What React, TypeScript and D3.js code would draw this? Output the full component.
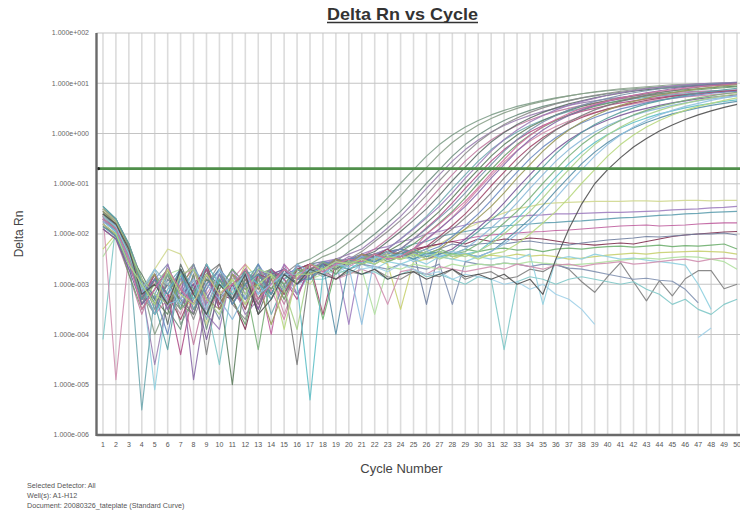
import React from 'react';
import * as d3 from 'd3';

const cycles = [1,2,3,4,5,6,7,8,9,10,11,12,13,14,15,16,17,18,19,20,21,22,23,24,25,26,27,28,29,30,31,32,33,34,35,36,37,38,39,40,41,42,43,44,45,46,47,48,49,50];
const yTickValues = [1e2, 1e1, 1e0, 1e-1, 1e-2, 1e-3, 1e-4, 1e-5, 1e-6];
const yTickLabels = ['1.000e+002','1.000e+001','1.000e+000','1.000e-001','1.000e-002','1.000e-003','1.000e-004','1.000e-005','1.000e-006'];
const threshold = 0.2;
const footer = ['Selected Detector: All', 'Well(s): A1-H12', 'Document: 20080326_tateplate (Standard Curve)'];

// Delta Rn values as log10 exponents, per cycle 1..50 (null = not plottable)
type S = (number | null)[];
const A1: S = [-1.55,-1.75,-2.4,-3.2,-3.6,-2.8,-3.8,-3.3,-2.7,-3.4, -2.9,-3.5,-2.8,-2.7,-3.1,-2.6,-2.5,-2.35,-2.2,-2.0, -1.78,-1.55,-1.28,-0.99,-0.72,-0.45,-0.22,-0.03,0.13,0.26, 0.37,0.46,0.54,0.6,0.66,0.71,0.75,0.79,0.82,0.85, 0.87,0.89,0.91,0.93,0.94,0.95,0.96,0.97,0.98,0.99];
const A28: S = [-1.7,-1.9,-2.6,-3.0,-4.0,-3.4,-2.9,-2.6,-3.5,-2.8, -3.3,-3.0,-2.6,-3.2,-2.7,-2.9,-2.6,-2.45,-2.35,-2.16, -1.96,-1.74,-1.51,-1.24,-0.95,-0.68,-0.41,-0.18,0.01,0.17, 0.3,0.41,0.5,0.58,0.64,0.7,0.75,0.79,0.83,0.86, 0.89,0.91,0.93,0.95,0.97,0.98,0.99,1.0,1.01,1.02];
const A2: S = [-1.6,-1.8,-2.3,-3.4,-2.9,-3.5,-3.9,-2.8,-3.9,-2.9, -3.3,-2.7,-3.1,-2.75,-3.3,-2.7,-2.8,-2.6,-2.55,-2.35, -2.2,-2.0,-1.78,-1.55,-1.28,-0.99,-0.72,-0.45,-0.22,-0.03, 0.13,0.26,0.37,0.46,0.54,0.6,0.66,0.71,0.75,0.79, 0.82,0.85,0.87,0.89,0.91,0.93,0.94,0.95,0.96,0.97];
const A3: S = [-1.8,-2.0,-2.7,-3.1,-4.6,-3.3,-2.8,-3.6,-2.6,-3.3, -3.0,-3.6,-3.3,-2.8,-2.9,-3.2,-2.75,-2.6,-2.5,-2.4, -2.3,-2.1,-1.88,-1.65,-1.38,-1.09,-0.82,-0.55,-0.32,-0.13, 0.03,0.16,0.27,0.36,0.44,0.5,0.56,0.61,0.65,0.69, 0.72,0.75,0.77,0.79,0.81,0.83,0.84,0.85,0.86,0.87];
const A4: S = [-1.5,-1.7,-2.2,-2.9,-3.5,-2.7,-3.1,-3.7,-3.0,-2.6, -3.4,-3.7,-2.9,-3.3,-2.8,-2.6,-2.9,-2.7,-2.6,-2.5, -2.35,-2.15,-1.95,-1.73,-1.5,-1.23,-0.94,-0.67,-0.4,-0.17, 0.02,0.18,0.31,0.42,0.51,0.59,0.65,0.71,0.76,0.8, 0.84,0.87,0.9,0.92,0.94,0.96,0.98,0.99,1.0,1.01];
const A5: S = [-1.9,-2.1,-2.8,-3.6,-2.9,-3.5,-3.0,-4.2,-3.1,-2.7, -3.2,-3.4,-2.7,-2.9,-3.4,-2.7,-2.8,-2.6,-2.7,-2.55, -2.45,-2.3,-2.1,-1.88,-1.65,-1.38,-1.09,-0.82,-0.55,-0.32, -0.13,0.03,0.16,0.27,0.36,0.44,0.5,0.56,0.61,0.65, 0.69,0.72,0.75,0.77,0.79,0.81,0.83,0.84,0.85,0.86];
const A6: S = [-1.65,-1.85,-2.5,-3.3,-2.8,-3.8,-2.6,-3.2,-2.7,-3.5, -3.0,-2.8,-3.6,-2.9,-2.7,-3.0,-2.6,-2.7,-2.5,-2.6, -2.45,-2.35,-2.15,-1.95,-1.73,-1.5,-1.23,-0.94,-0.67,-0.4, -0.17,0.02,0.18,0.31,0.42,0.51,0.59,0.65,0.71,0.76, 0.8,0.84,0.87,0.9,0.92,0.94,0.96,0.98,0.99,1.0];
const A7: S = [-1.45,-1.7,-2.3,-5.5,-3.2,-2.7,-3.4,-2.9,-3.7,-2.8, -3.3,-3.0,-2.6,-3.6,-3.0,-2.8,-2.7,-2.6,-2.65,-2.5, -2.55,-2.4,-2.3,-2.1,-1.88,-1.65,-1.38,-1.09,-0.82,-0.55, -0.32,-0.13,0.03,0.16,0.27,0.36,0.44,0.5,0.56,0.61, 0.65,0.69,0.72,0.75,0.77,0.79,0.81,0.83,0.84,0.85];
const A8: S = [-1.7,-1.95,-2.5,-3.1,-3.6,-2.6,-3.3,-2.9,-3.6,-3.9, -2.7,-3.2,-2.8,-3.1,-2.6,-3.2,-2.7,-2.55,-2.6,-2.45, -2.5,-2.4,-2.3,-2.1,-1.9,-1.68,-1.45,-1.18,-0.89,-0.62, -0.35,-0.12,0.07,0.23,0.36,0.47,0.56,0.64,0.7,0.76, 0.81,0.85,0.89,0.92,0.95,0.97,0.99,1.0,1.01,1.02];
const A9: S = [-1.6,-1.8,-2.4,-2.8,-3.3,-3.6,-2.7,-3.4,-2.9,-3.1, -5.0,-2.7,-3.3,-2.8,-3.1,-2.7,-2.8,-2.6,-2.7,-2.5, -2.6,-2.45,-2.35,-2.2,-2.0,-1.78,-1.55,-1.28,-0.99,-0.72, -0.45,-0.22,-0.03,0.13,0.26,0.37,0.46,0.54,0.6,0.66, 0.71,0.75,0.79,0.82,0.85,0.87,0.89,0.91,0.93,0.94];
const A10: S = [-1.75,-1.9,-2.6,-3.3,-2.8,-3.2,-4.4,-3.1,-2.7,-3.5, -3.0,-2.8,-3.5,-2.7,-2.9,-3.3,-2.6,-2.7,-2.5,-2.6, -2.4,-2.5,-2.4,-2.3,-2.1,-1.88,-1.65,-1.38,-1.09,-0.82, -0.55,-0.32,-0.13,0.03,0.16,0.27,0.36,0.44,0.5,0.56, 0.61,0.65,0.69,0.72,0.75,0.77,0.79,0.81,0.83,0.84];
const A11: S = [-1.55,-1.8,-2.3,-2.9,-3.4,-3.0,-3.5,-2.6,-3.2,-3.7, -2.8,-3.3,-3.0,-2.7,-3.2,-2.6,-2.9,-2.65,-2.5,-2.55, -2.45,-2.5,-2.4,-2.3,-2.1,-1.9,-1.68,-1.45,-1.18,-0.89, -0.62,-0.35,-0.12,0.07,0.23,0.36,0.47,0.56,0.64,0.7, 0.76,0.81,0.85,0.89,0.92,0.95,0.97,0.99,1.0,1.01];
const A12: S = [-1.85,-2.0,-2.8,-3.5,-3.1,-2.7,-3.4,-3.6,-2.8,-3.0, -3.3,-3.8,-2.8,-3.1,-2.7,-3.0,-2.7,-2.6,-2.8,-2.5, -2.55,-2.4,-2.5,-2.35,-2.2,-2.0,-1.78,-1.55,-1.28,-0.99, -0.72,-0.45,-0.22,-0.03,0.13,0.26,0.37,0.46,0.54,0.6, 0.66,0.71,0.75,0.79,0.82,0.85,0.87,0.89,0.91,0.93];
const A13: S = [-1.65,-1.85,-2.5,-3.0,-3.6,-3.3,-2.8,-2.7,-3.5,-3.2, -2.9,-2.6,-3.4,-3.1,-3.7,-2.9,-2.8,-2.7,-2.6,-2.65, -2.5,-2.6,-2.45,-2.5,-2.32,-2.12,-1.9,-1.67,-1.4,-1.11, -0.84,-0.57,-0.34,-0.15,0.01,0.14,0.25,0.34,0.42,0.48, 0.54,0.59,0.63,0.67,0.7,0.73,0.75,0.77,0.79,0.81];
const A14: S = [-1.7,-1.9,-2.4,-3.2,-2.9,-3.5,-2.7,-4.9,-3.3,-2.8, -3.4,-3.0,-2.7,-3.2,-2.7,-2.9,-2.75,-2.7,-2.5,-2.6, -2.45,-2.4,-2.5,-2.4,-2.3,-2.1,-1.9,-1.68,-1.45,-1.18, -0.89,-0.62,-0.35,-0.12,0.07,0.23,0.36,0.47,0.56,0.64, 0.7,0.76,0.81,0.85,0.89,0.92,0.95,0.97,0.99,1.01];
const A15: S = [-1.5,-1.75,-2.3,-3.3,-2.9,-3.2,-3.7,-3.1,-2.6,-3.4, -3.0,-3.5,-2.8,-2.9,-3.2,-2.7,-2.6,-3.6,-2.55,-2.6, -2.5,-2.45,-2.3,-2.5,-2.35,-2.25,-2.05,-1.83,-1.6,-1.33, -1.04,-0.77,-0.5,-0.27,-0.08,0.08,0.21,0.32,0.41,0.49, 0.55,0.61,0.66,0.7,0.74,0.77,0.8,0.82,0.84,0.86];
const A16: S = [-1.8,-2.05,-2.6,-2.9,-3.4,-3.0,-3.3,-3.6,-2.8,-2.6, -3.3,-2.9,-3.4,-2.8,-3.0,-4.6,-2.7,-2.6,-2.65,-2.5, -2.55,-2.4,-2.45,-2.35,-2.4,-2.3,-2.1,-1.9,-1.68,-1.45, -1.18,-0.89,-0.62,-0.35,-0.12,0.07,0.23,0.36,0.47,0.56, 0.64,0.7,0.76,0.81,0.85,0.89,0.92,0.95,0.97,0.99];
const A17: S = [-1.6,-1.85,-2.4,-3.0,-3.2,-4.0,-2.8,-3.4,-3.1,-2.7, -3.0,-3.3,-2.6,-3.0,-2.8,-2.7,-2.9,-2.55,-2.6,-2.5, -2.45,-2.55,-2.4,-2.3,-2.45,-2.35,-2.25,-2.05,-1.83,-1.6, -1.33,-1.04,-0.77,-0.5,-0.27,-0.08,0.08,0.21,0.32,0.41, 0.49,0.55,0.61,0.66,0.7,0.74,0.77,0.8,0.82,0.84];
const A18: S = [-1.55,-1.8,-2.2,-3.1,-2.8,-3.4,-3.0,-2.7,-3.3,-3.5, -2.8,-3.1,-3.0,-3.8,-3.1,-2.8,-2.6,-2.7,-2.5,-2.6, -2.4,-2.5,-2.35,-2.45,-2.3,-2.4,-2.3,-2.1,-1.9,-1.68, -1.45,-1.18,-0.89,-0.62,-0.35,-0.12,0.07,0.23,0.36,0.47, 0.56,0.64,0.7,0.76,0.81,0.85,0.89,0.92,0.95,0.97];
const A19: S = [-1.9,-2.1,-2.7,-3.4,-3.1,-2.7,-3.2,-3.0,-4.1,-3.1, -2.7,-3.0,-3.5,-2.8,-2.7,-3.0,-2.8,-2.6,-2.7,-2.55, -2.6,-2.4,-2.5,-2.45,-2.35,-2.5,-2.4,-2.3,-2.1,-1.88, -1.65,-1.38,-1.09,-0.82,-0.55,-0.32,-0.13,0.03,0.16,0.27, 0.36,0.44,0.5,0.56,0.61,0.65,0.69,0.72,0.75,0.77];
const A20: S = [-1.45,-1.7,-2.2,-3.0,-3.4,-4.3,-2.7,-3.1,-3.6,-2.9, -3.3,-2.7,-3.0,-3.2,-2.7,-2.9,-2.7,-2.8,-2.6,-2.5, -2.6,-2.45,-2.5,-2.4,-2.3,-2.45,-2.4,-2.35,-2.15,-1.95, -1.73,-1.5,-1.23,-0.94,-0.67,-0.4,-0.17,0.02,0.18,0.31, 0.42,0.51,0.59,0.65,0.71,0.76,0.8,0.84,0.87,0.9];
const A21: S = [-1.75,-1.95,-2.5,-3.2,-2.7,-3.4,-3.3,-2.7,-3.0,-3.3, -3.7,-3.2,-2.7,-2.8,-3.1,-2.6,-2.75,-2.7,-2.55,-2.6, -2.45,-2.5,-2.35,-2.5,-2.4,-2.3,-2.45,-2.4,-2.3,-2.1, -1.88,-1.65,-1.38,-1.09,-0.82,-0.55,-0.32,-0.13,0.03,0.16, 0.27,0.36,0.44,0.5,0.56,0.61,0.65,0.69,0.72,0.75];
const A22: S = [-1.6,-1.9,-2.4,-3.3,-3.0,-2.7,-3.5,-3.2,-2.8,-3.1, -2.7,-3.0,-4.3,-2.8,-3.0,-2.7,-2.8,-2.55,-2.7,-2.6, -2.5,-2.4,-2.55,-2.45,-2.35,-2.4,-2.3,-2.4,-2.35,-2.2, -2.0,-1.78,-1.55,-1.28,-0.99,-0.72,-0.45,-0.22,-0.03,0.13, 0.26,0.37,0.46,0.54,0.6,0.66,0.71,0.75,0.79,0.82];
const A23: S = [-1.7,-1.95,-2.6,-3.0,-3.6,-3.1,-2.8,-3.3,-2.6,-3.0, -3.2,-2.8,-3.0,-3.3,-2.8,-3.0,-5.3,-2.8,-2.6,-2.7, -2.55,-2.6,-2.45,-2.4,-2.5,-2.35,-2.45,-2.4,-2.4,-2.35, -2.15,-1.93,-1.7,-1.43,-1.14,-0.87,-0.6,-0.37,-0.18,-0.02, 0.11,0.22,0.31,0.39,0.45,0.51,0.56,0.6,0.64,0.67];
const A24: S = [-1.5,-1.75,-2.3,-2.9,-3.2,-3.4,-2.8,-2.7,-3.3,-3.6, -2.9,-3.2,-2.7,-2.8,-3.1,-3.9,-2.6,-2.7,-2.65,-2.55, -2.6,-2.5,-2.4,-2.5,-2.45,-2.35,-2.5,-2.4,-2.45,-2.35, -2.2,-2.0,-1.78,-1.55,-1.28,-0.99,-0.72,-0.45,-0.22,-0.03, 0.13,0.26,0.37,0.46,0.54,0.6,0.66,0.71,0.75,0.79];
const A25: S = [-1.85,-2.05,-2.6,-3.3,-2.9,-3.2,-2.7,-3.5,-3.0,-2.7, -3.4,-3.0,-2.8,-3.2,-2.7,-2.9,-2.9,-2.6,-4.0,-2.6, -2.5,-2.55,-2.45,-2.4,-2.5,-2.4,-2.35,-2.45,-2.4,-2.45, -2.35,-2.15,-1.93,-1.7,-1.43,-1.14,-0.87,-0.6,-0.37,-0.18, -0.02,0.11,0.22,0.31,0.39,0.45,0.51,0.56,0.6,0.64];
const A26: S = [-1.65,-1.85,-2.4,-3.1,-2.7,-3.0,-3.4,-2.9,-3.5,-2.7, -3.1,-2.8,-3.2,-3.0,-2.8,-2.8,-2.7,-2.8,-2.6,-2.65, -3.8,-2.45,-2.5,-2.4,-2.55,-2.4,-2.45,-2.35,-2.4,-2.45, -2.35,-2.2,-2.0,-1.78,-1.55,-1.28,-0.99,-0.72,-0.45,-0.22, -0.03,0.13,0.26,0.37,0.46,0.54,0.6,0.66,0.71,0.75];
const A27: S = [-1.6,-1.8,-2.3,-3.2,-3.0,-3.4,-2.7,-3.2,-3.6,-3.0, -3.3,-2.8,-3.6,-3.3,-2.8,-3.0,-2.7,-2.8,-2.9,-2.7, -2.8,-2.7,-2.9,-2.8,-2.75,-2.9,-2.8,-2.7,-2.85,-2.8, -2.9,-2.8,-3.0,-2.9,-3.2,-2.5,-1.9,-1.4,-1.0,-0.72, -0.48,-0.27,-0.1,0.05,0.17,0.28,0.37,0.45,0.52,0.58];
const A29: S = [-1.7,-1.9,-2.5,-3.5,-3.1,-2.7,-3.1,-3.4,-2.8,-3.2, -3.0,-2.7,-3.3,-3.0,-2.7,-2.9,-2.6,-2.75,-2.6,-2.5, -2.55,-2.4,-2.5,-2.45,-2.3,-2.0,-1.8,-1.58,-1.35,-1.08, -0.79,-0.52,-0.25,-0.04,0.14,0.28,0.4,0.5,0.58,0.65, 0.71,0.76,0.8,0.84,0.87,0.9,0.93,0.95,0.97,0.99];
const A30: S = [-1.8,-2.0,-2.6,-3.0,-3.4,-2.7,-3.2,-3.4,-2.8,-3.2, -2.9,-3.4,-3.0,-2.8,-3.9,-2.8,-2.8,-2.7,-2.55,-2.6, -2.5,-2.6,-2.45,-2.5,-2.4,-2.5,-2.35,-2.45,-2.4,-2.5, -2.4,-2.35,-2.2,-2.0,-1.78,-1.55,-1.28,-0.99,-0.72,-0.45, -0.22,-0.03,0.13,0.26,0.37,0.46,0.54,0.6,0.66,0.71];

const N1: S = [-1.9,-2.1,-2.5,-3.1,-2.7,-2.3,-2.4,-2.9,-3.8,-2.8, -3.0,-3.4,-2.8,-2.7,-3.1,-2.8,-3.0,-2.6,-2.7,-2.5, -2.6,-2.5,-2.55,-2.45,-2.4,-2.3,-2.2,-2.05,-1.9,-1.78, -1.68,-1.58,-1.5,-1.45,-1.4,-1.38,-1.37,-1.36,-1.35,-1.35, -1.35,-1.34,-1.34,-1.35,-1.34,-1.33,-1.33,-1.34,-1.33,-1.33];
const N2: S = [-1.6,-1.85,-2.3,-3.4,-2.9,-3.2,-2.7,-3.6,-2.9,-3.3, -2.8,-3.0,-3.2,-2.7,-2.9,-2.65,-2.7,-2.55,-2.5,-3.8, -2.4,-2.3,-2.25,-2.15,-2.1,-2.0,-1.95,-1.88,-1.82,-1.76, -1.72,-1.68,-1.65,-1.63,-1.62,-1.6,-1.6,-1.59,-1.58,-1.57, -1.57,-1.56,-1.55,-1.54,-1.52,-1.51,-1.5,-1.48,-1.47,-1.45];
const N3: S = [-1.5,-1.7,-2.2,-2.9,-3.4,-3.0,-2.7,-3.2,-2.8,-3.4, -3.1,-2.8,-3.0,-2.75,-2.9,-2.7,-2.6,-2.65,-2.5,-2.55, -2.45,-2.4,-2.35,-2.3,-2.2,-2.15,-2.05,-2.0,-1.95,-1.9, -1.87,-1.84,-1.82,-1.8,-1.78,-1.77,-1.75,-1.74,-1.72,-1.7, -1.68,-1.67,-1.65,-1.63,-1.62,-1.6,-1.59,-1.57,-1.56,-1.55];
const N4: S = [-1.8,-2.0,-2.45,-3.2,-2.8,-3.3,-3.1,-2.6,-3.4,-2.9, -3.0,-3.3,-2.8,-4.0,-2.6,-2.9,-2.7,-2.6,-2.55,-2.6, -2.5,-2.45,-2.4,-2.3,-2.35,-2.25,-2.2,-2.15,-2.1,-2.05, -2.02,-2.0,-1.98,-1.96,-1.95,-1.93,-1.92,-1.9,-1.88,-1.86, -1.84,-1.83,-1.82,-1.84,-1.83,-1.82,-1.8,-1.79,-1.78,-1.78];
const N5: S = [-1.55,-1.8,-2.25,-3.0,-3.3,-2.8,-3.4,-3.0,-2.7,-3.2, -3.3,-3.9,-2.9,-2.7,-3.0,-2.7,-2.6,-2.7,-2.55,-2.5, -2.45,-2.5,-2.35,-2.4,-2.3,-2.25,-2.2,-2.15,-2.2,-2.1, -2.15,-2.1,-2.12,-2.08,-2.1,-2.14,-2.18,-2.2,-2.22,-2.2, -2.18,-2.2,-2.15,-2.1,-2.05,-2.02,-2.0,-1.98,-1.96,-1.95];
const N6: S = [-1.7,-1.9,-2.4,-3.0,-3.6,-2.9,-3.2,-2.7,-3.3,-2.8, -3.1,-2.7,-3.2,-2.8,-2.7,-2.9,-2.6,-2.55,-2.6,-2.5, -2.4,-2.45,-2.35,-2.3,-2.35,-3.4,-2.3,-2.2,-2.25,-2.2, -2.18,-2.2,-2.16,-2.14,-2.18,-2.2,-2.22,-2.18,-2.15,-2.12, -2.1,-2.08,-2.05,-2.06,-2.04,-2.02,-2.0,-2.0,-1.98,-2.02];
const N7: S = [-1.6,-1.85,-2.3,-3.1,-2.8,-3.5,-2.9,-3.3,-2.6,-3.3, -2.8,-3.0,-2.7,-3.1,-2.8,-3.0,-2.7,-3.7,-2.7,-2.55, -2.5,-2.55,-2.45,-2.5,-2.4,-2.45,-2.35,-2.4,-2.3,-2.35, -2.3,-2.28,-2.32,-2.3,-2.35,-2.3,-2.28,-2.3,-2.27,-2.25, -2.24,-2.26,-2.24,-2.22,-2.25,-2.23,-2.24,-2.22,-2.2,-2.3];
const N8: S = [-2.3,-2.0,-2.5,-3.3,-2.7,-3.0,-3.2,-3.5,-2.8,-2.9, -3.2,-2.6,-2.9,-2.8,-3.3,-2.7,-2.75,-2.8,-2.6,-2.7, -2.6,-2.5,-2.6,-3.5,-2.55,-2.5,-2.45,-2.5,-2.4,-2.45, -2.42,-2.45,-2.4,-2.44,-2.42,-2.45,-2.5,-2.48,-2.45,-2.42, -2.4,-2.38,-2.4,-2.37,-2.36,-2.35,-2.34,-2.35,-2.36,-2.4];
const N9: S = [-1.65,-1.9,-2.35,-3.3,-2.9,-3.2,-3.5,-2.8,-4.4,-2.9, -3.4,-2.9,-2.8,-3.2,-2.7,-3.0,-2.8,-2.7,-2.9,-2.75, -2.8,-2.7,-2.85,-2.9,-2.75,-2.8,-2.85,-2.7,-2.9,-2.8, -2.75,-2.9,-2.85,-2.7,-2.75,-2.6,-2.7,-2.95,-3.16,-2.85, -2.57,-2.95,-3.33,-2.93,-3.23,-2.89,-2.73,-2.73,-3.09,-3.0];
const N10: S = [-1.45,-1.7,-2.2,-2.9,-5.1,-3.2,-2.9,-3.4,-2.8,-3.0, -3.1,-3.3,-2.8,-3.0,-2.7,-3.2,-2.8,-2.7,-2.6,-2.8, -2.6,-2.7,-2.55,-2.6,-2.5,-2.6,-2.45,-2.5,-2.55,-2.45, -2.5,-2.45,-2.5,-2.4,-3.4,-2.5,-2.45,-2.5,-2.4,-2.45, -2.5,-2.48,-2.52,-2.55,-2.58,-2.62,-3.0,-3.5,null,null];
const N11: S = [-1.7,-1.95,-2.4,-3.2,-2.9,-2.6,-3.4,-3.1,-2.8,-3.5, -2.8,-3.1,-2.9,-2.7,-3.2,-2.8,-2.7,-2.85,-2.65,-2.7, -2.6,-2.65,-2.7,-2.6,-2.65,-2.7,-2.6,-3.4,-2.55,-2.6, -2.62,-2.58,-2.6,-2.65,-2.6,-2.62,-2.68,-2.7,-2.75,-2.8, -2.85,-2.9,-2.88,-2.92,-2.94,-3.1,-3.37,null,null,null];
const N12: S = [-2.45,-2.05,-2.55,-3.4,-3.0,-2.8,-2.7,-3.1,-3.6,-2.9, -2.8,-3.3,-2.9,-3.2,-2.8,-2.75,-2.9,-2.8,-2.7,-2.8, -2.7,-3.6,-2.65,-2.7,-2.6,-2.65,-2.7,-2.6,-2.65,-2.6, -2.62,-2.58,-2.6,-2.55,-2.58,-2.6,-2.62,-2.6,-2.58,-2.55, -2.52,-2.5,-2.48,-2.5,-2.47,-2.45,-2.46,-2.5,-2.55,-2.7];
const N13: S = [-4.1,-1.8,-2.2,-3.0,-3.3,-2.8,-3.2,-2.9,-3.4,-4.6, -3.0,-2.8,-2.7,-3.3,-2.9,-2.8,-2.9,-2.9,-2.8,-2.7, -2.8,-2.75,-2.9,-2.8,-2.7,-2.85,-2.8,-2.9,-3.0,-2.85, -2.9,-4.3,-2.95,-2.85,-2.9,-3.0,-2.9,-2.85,-2.9,-2.95, -3.0,-2.95,-3.1,-3.2,-3.4,-3.3,-3.5,-3.6,-3.4,-3.3];
const N14: S = [-1.6,-4.9,-2.4,-3.3,-2.8,-3.2,-3.6,-2.9,-3.2,-2.8, -3.3,-2.9,-3.1,-2.8,-3.6,-2.9,-2.8,-2.75,-2.9,-2.8, -2.7,-2.8,-3.4,-2.75,-2.7,-2.8,-2.65,-2.7,-2.75,-2.7, -2.65,-2.7,-2.6,-2.65,-2.7,-2.62,-2.6,-2.65,-2.6,-2.58, -2.55,-2.6,-2.58,-2.55,-2.52,-2.5,-2.55,-2.5,-2.48,-2.5];
const N15: S = [-1.75,-1.95,-2.4,-3.1,-2.8,-3.4,-2.9,-3.2,-2.7,-3.3, -2.9,-2.8,-3.2,-2.9,-2.7,-3.0,-2.9,-2.7,-2.8,-2.6, -2.7,-2.65,-2.75,-2.6,-2.7,-2.8,-2.75,-2.9,-2.8,-2.85, -2.9,-3.0,-2.95,-3.1,-3.0,-3.2,-3.3,-3.5,-3.8,null, null,null,null,null,null,null,-4.06,-3.87,null,null];

const flatSeries = [N1, N2, N3, N4, N5, N6, N7, N8, N9, N10, N11, N12, N13, N14, N15];
const flatColors = ['#d0d890','#a080c0','#60a0b0','#c060a0','#803050','#7080a0','#70b070','#c8d070','#808080','#90d0e0','#8090b0','#b0e0a0','#80c8c8','#d090b0','#a0d0e8'];
const ampSeries = [A1, A28, A2, A3, A4, A5, A6, A7, A8, A9, A10, A11, A12, A13, A14, A15, A16, A17, A18, A19, A20, A21, A22, A23, A24, A25, A26, A27, A29, A30];
const ampColors = ['#7f9f8a','#8aa08a','#6f8f80','#9a80b0','#8c8c8c','#c07aa0','#5f6f6a','#70a8b0','#9c7cb8','#5f8060','#b0508a','#7890a8','#6a9a6a','#d08aa8','#8a6aa8','#a04a6a','#7a7a7a','#6a8ac0','#9a9a5a','#7a5a9a','#5aa0a0','#8ab8d8','#7ab07a','#60c0c8','#a8d08a','#5a90a8','#90c0e0','#505050','#d070a0','#b8d880'];

const FONT = '"Liberation Sans", Arial, sans-serif';

export default function App() {
  const W = 740, H = 516;
  const left = 96.5, right = 743.5, top = 33, bottom = 435;
  const x = d3.scaleLinear().domain([0.5, 50.5]).range([left, right]);
  const y = d3.scaleLog().domain([1e-6, 1e2]).range([bottom, top]);
  const line = d3.line<number | null>()
    .defined(v => v !== null)
    .x((_, i) => x(cycles[i]))
    .y(v => y(Math.pow(10, v as number)));
  const ty = y(threshold);

  return (
    <svg width={W} height={H} style={{ position: 'absolute', left: 0, top: 0, background: '#fff' }} fontFamily={FONT}>
      <rect x={0} y={0} width={W} height={H} fill="#fff" />
      <defs>
        <clipPath id="plot"><rect x={left} y={top - 1} width={right - left} height={bottom - top + 2} /></clipPath>
        <filter id="soft" x="-2%" y="-2%" width="104%" height="104%"><feGaussianBlur stdDeviation="0.3" /></filter>
      </defs>
      {cycles.map(c => (
        <line key={'v' + c} x1={x(c)} x2={x(c)} y1={top} y2={bottom} stroke="#dcdcdc" strokeWidth={1.6} />
      ))}
      {yTickValues.map((v, i) => (
        <line key={'h' + i} x1={left} x2={W} y1={y(v)} y2={y(v)} stroke="#c4c4c4" strokeWidth={1.2} />
      ))}
      <g clipPath="url(#plot)" fill="none" strokeLinejoin="round" filter="url(#soft)">
        {flatSeries.map((s, i) => (
          <path key={'n' + i} d={line(s) || ''} stroke={flatColors[i]} strokeWidth={1.15} opacity={0.9} />
        ))}
        {ampSeries.map((s, i) => (
          <path key={'a' + i} d={line(s) || ''} stroke={ampColors[i]} strokeWidth={1.15} opacity={0.9} />
        ))}
      </g>
      <line x1={left + 1} x2={W} y1={ty} y2={ty} stroke="#4f8f4a" strokeWidth={2.6} />
      <circle cx={left + 2} cy={ty} r={1.6} fill="#222" />
      <line x1={left} x2={left} y1={top} y2={bottom + 1} stroke="#6a6a6a" strokeWidth={2.4} />
      <line x1={left} x2={W} y1={bottom} y2={bottom} stroke="#6a6a6a" strokeWidth={2.4} />
      {yTickValues.map((v, i) => (
        <text key={'yt' + i} x={89} y={y(v)} dy="0.35em" textAnchor="end" fontSize={7} fill="#666">{yTickLabels[i]}</text>
      ))}
      {cycles.map(c => (
        <text key={'xt' + c} x={x(c)} y={447} textAnchor="middle" fontSize={7} fill="#555">{c}</text>
      ))}
      <text x={402.5} y={20} textAnchor="middle" fontSize={17} fontWeight="bold" fill="#333" textLength={151} lengthAdjust="spacingAndGlyphs">Delta Rn vs Cycle</text>
      <line x1={327} x2={478} y1={22.5} y2={22.5} stroke="#333" strokeWidth={1.3} />
      <text transform="translate(23,234) rotate(-90)" textAnchor="middle" fontSize={12} fill="#444">Delta Rn</text>
      <text x={401.5} y={473} textAnchor="middle" fontSize={13} fill="#444">Cycle Number</text>
      {footer.map((t, i) => (
        <text key={'f' + i} x={27} y={487.5 + i * 10} fontSize={7.2} fill="#555">{t}</text>
      ))}
    </svg>
  );
}
